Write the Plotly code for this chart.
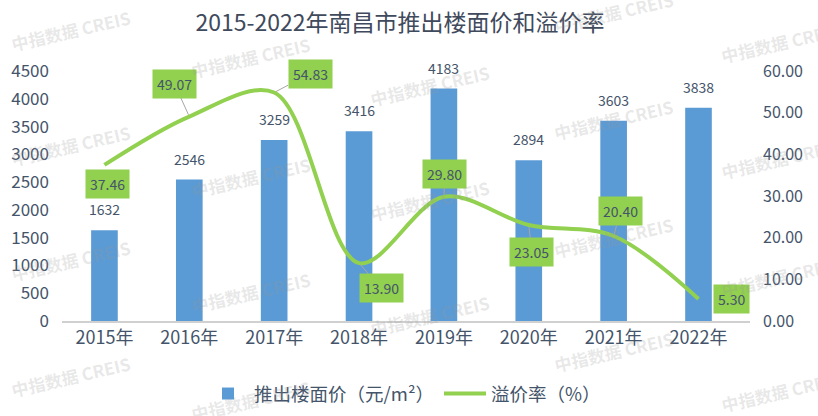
import plotly.graph_objects as go

years = ["2015年", "2016年", "2017年", "2018年", "2019年", "2020年", "2021年", "2022年"]
floor_price = [1632, 2546, 3259, 3416, 4183, 2894, 3603, 3838]
premium_rate = [37.46, 49.07, 54.83, 13.90, 29.80, 23.05, 20.40, 5.30]
left_ticks = [0, 500, 1000, 1500, 2000, 2500, 3000, 3500, 4000, 4500]
right_ticks = [0, 10, 20, 30, 40, 50, 60]

# label offsets (pixels) and whether a leader line is drawn
label_offsets = [(3, 19, False), (-15, -33, True), (36, -19, True), (22, 25, True),
                 (1, -23, True), (3, 27, True), (7, -25, True), (33, 0, False)]

BLUE = "#5B9BD5"
GREEN = "#92D050"
TXT = "#44546A"
FONT = "Noto Sans CJK SC"

W, H = 818, 416
L, R, T, B = 62, 68, 71, 95
pw, ph = W - L - R, H - T - B

fig = go.Figure()
fig.add_trace(go.Bar(
    x=years, y=floor_price, name="推出楼面价（元/m²）",
    marker=dict(color=BLUE, line=dict(width=0)), yaxis="y",
))
fig.add_trace(go.Scatter(
    x=years, y=premium_rate, name="溢价率（%）", mode="lines",
    line=dict(color=GREEN, width=4, shape="spline", smoothing=0.95), yaxis="y2",
))

ann = []
for xv, yv in zip(years, floor_price):
    ann.append(dict(x=xv, y=yv, xref="x", yref="y", text=str(yv), showarrow=False,
                    yanchor="middle", yshift=21, font=dict(size=14, color=TXT, family=FONT)))

for xv, yv, (dx, dy, arrow) in zip(years, premium_rate, label_offsets):
    txt = "%.2f" % yv
    base = dict(x=xv, y=yv, xref="x", yref="y2", text=txt, bgcolor=GREEN,
                borderpad=4, font=dict(size=14, color=TXT, family=FONT))
    if arrow:
        base.update(showarrow=True, ax=dx, ay=dy, arrowhead=0, arrowwidth=1,
                    arrowcolor="#A6A6A6", standoff=2)
    else:
        base.update(showarrow=False, xshift=dx, yshift=-dy)
    ann.append(base)

# watermarks
wm_cols = {70: [30, 145, 260, 376], 250: [58, 177, 292, 400], 430: [85, 200, 315],
           613: [12, 120, 238, 351], 780: [43, 158, 276, 391]}
for px, ys in wm_cols.items():
    for py in ys:
        ann.append(dict(x=(px - L) / pw, y=(H - B - py) / ph, xref="paper", yref="paper",
                        text="<b>中指数据 CREIS</b>", showarrow=False, textangle=-13,
                        xanchor="center", yanchor="middle",
                        font=dict(size=17, color="rgba(150,150,150,0.22)", family=FONT)))

fig.update_layout(
    width=W, height=H,
    margin=dict(l=L, r=R, t=T, b=B, autoexpand=False),
    paper_bgcolor="white", plot_bgcolor="white",
    font=dict(family=FONT, color=TXT),
    title=dict(text="2015-2022年南昌市推出楼面价和溢价率", x=(400 - L) / pw, xref="paper",
               xanchor="center", y=1 - 23 / H, yref="container", yanchor="middle",
               font=dict(size=23, color="#3F4A5C", family=FONT)),
    bargap=0.686,
    showlegend=True,
    legend=dict(orientation="h", x=(404 - L) / pw, xanchor="center", y=(H - B - 394) / ph,
                yanchor="middle", font=dict(size=18.5, color=TXT, family=FONT),
                bgcolor="rgba(0,0,0,0)", itemwidth=42),
    xaxis=dict(showgrid=False, showline=True, linecolor="#D0D0D0", linewidth=1.5,
               ticks="", tickfont=dict(size=18, color=TXT), zeroline=False,
               automargin=False),
    yaxis=dict(range=[0, 4500], tickvals=left_ticks, showgrid=False, zeroline=False,
               showline=False, ticks="", tickfont=dict(size=17, color=TXT),
               ticklabelstandoff=12, automargin=False),
    yaxis2=dict(range=[0, 60], tickvals=right_ticks, tickformat=".2f", overlaying="y",
                side="right", showgrid=False, zeroline=False, showline=False, ticks="",
                tickfont=dict(size=16, color=TXT), ticklabelstandoff=12, automargin=False),
    annotations=ann,
)

fig.write_html("out.html", config={"displayModeBar": False},
               post_script="document.body.style.margin='0px';document.body.style.overflow='hidden';")
